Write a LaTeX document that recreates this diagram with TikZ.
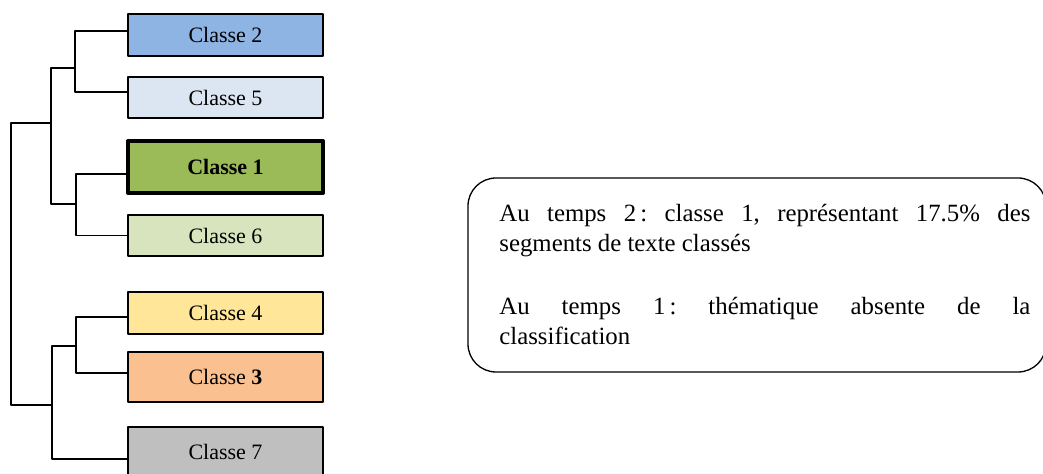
\documentclass[tikz,border=0pt]{standalone}
\usepackage{fontspec}
\setmainfont{Liberation Serif}
\frenchspacing
\definecolor{classblue}{HTML}{8EB4E3}
\definecolor{classpaleblue}{HTML}{DCE6F2}
\definecolor{classgreen}{HTML}{9BBB59}
\definecolor{classpalegreen}{HTML}{D7E4BD}
\definecolor{classyellow}{HTML}{FFE699}
\definecolor{classorange}{HTML}{FAC090}
\definecolor{classgrey}{HTML}{BFBFBF}

\begin{document}
\begin{tikzpicture}[
  x=0.5pt,
  y=-0.5pt,
  line join=round,
  clsbox/.style={draw=black,line width=0.65pt,minimum width=97.5pt,inner sep=0pt,
    font=\fontsize{11}{13}\selectfont},
  keybox/.style={clsbox,line width=2pt},
  link/.style={draw=black,line width=0.6pt},
  notebox/.style={draw=black,line width=0.65pt,rounded corners=14pt,
    minimum width=289pt,minimum height=97pt},
  notetext/.style={text width=265.5pt,align=justify,inner sep=0pt,
    font=\fontsize{12.4}{14.8}\selectfont}
]
  \useasboundingbox (0,0) rectangle (1043,474);
  \clip (0,0) rectangle (1043,474);

  % Class boxes, top to bottom in dendrogram order.
  \node[clsbox,fill=classblue,minimum height=21pt] (c2) at (225.5,35) {Classe 2};
  \node[clsbox,fill=classpaleblue,minimum height=20.5pt] (c5) at (225.5,97.5) {Classe 5};
  \node[keybox,fill=classgreen,minimum height=26pt] (c1) at (225.5,167) {\textbf{Classe 1}};
  \node[clsbox,fill=classpalegreen,minimum height=20.5pt] (c6) at (225.5,235.5) {Classe 6};
  \node[clsbox,fill=classyellow,minimum height=21pt] (c4) at (225.5,313) {Classe 4};
  \node[clsbox,fill=classorange,minimum height=25pt] (c3) at (225.5,377) {Classe \textbf{3}};
  \node[clsbox,fill=classgrey,minimum height=25pt] (c7) at (225.5,452) {Classe 7};

  % Merge points of the tree.
  \coordinate (b25) at (75,68);
  \coordinate (b16) at (76,204);
  \coordinate (b1256) at (51,123);
  \coordinate (b34) at (76,346);
  \coordinate (b347) at (52,405);
  \coordinate (root) at (11,264);

  \draw[link] ([yshift=2pt]c2.west) -| (b25) |- ([yshift=2.75pt]c5.west);
  \draw[link] ([yshift=-3.5pt]c1.west) -| (b16) |- (c6.west);
  \draw[link] (b25) -| (b1256) |- (b16);
  \draw[link] ([yshift=-2pt]c4.west) -| (b34) |- ([yshift=2pt]c3.west);
  \draw[link] (b34) -| (b347) |- ([yshift=-3.5pt]c7.west);
  \draw[link] (b1256) -| (root) |- (b347);

  % Comment box on the right.
  \node[notebox] (note) at (757,275) {};
  \node[notetext,anchor=north west] (notetxt) at (499,204) {%
    Au temps 2\,: classe 1, représentant 17.5\% des\linebreak
    segments de texte classés\par\vspace{17pt}%
    Au temps 1\,: thématique absente de la\linebreak
    classification};
\end{tikzpicture}
\end{document}
